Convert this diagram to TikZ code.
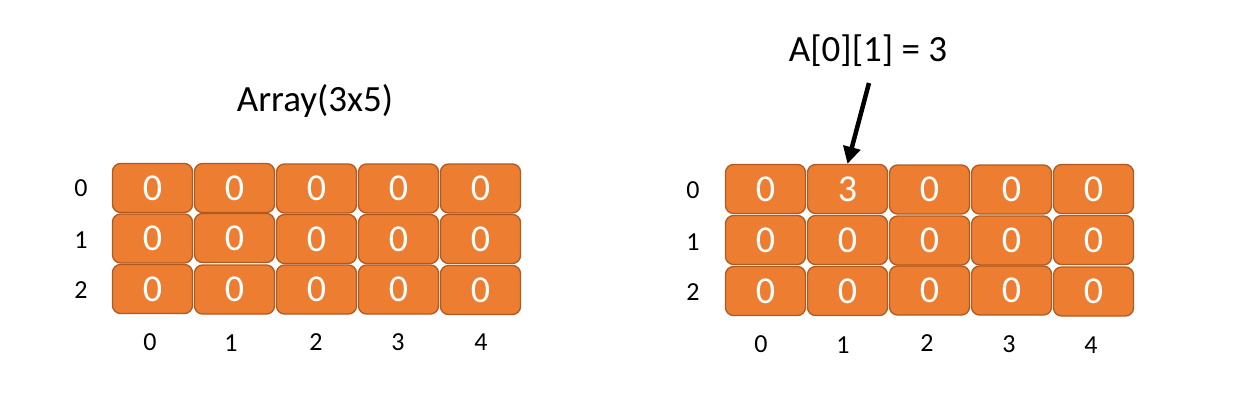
\documentclass[tikz,border=0pt]{standalone}
\usepackage{fontspec}
\setmainfont{Carlito}
\usetikzlibrary{arrows.meta}
\definecolor{cellfill}{HTML}{ED7D31}
\definecolor{celledge}{HTML}{AE5A21}
\begin{document}
\begin{tikzpicture}[x=1pt,y=-1pt]
\tikzstyle{cell} = [draw=celledge,fill=cellfill,line width=1.3pt,rounded corners=8pt,minimum width=80pt,minimum height=49pt,inner sep=0pt,text=white,font=\fontsize{38}{44}\selectfont];
\tikzstyle{idx} = [inner sep=0pt,font=\fontsize{26}{30}\selectfont];
\tikzstyle{caption} = [inner sep=0pt,anchor=base,font=\fontsize{37}{44}\selectfont];
\tikzstyle{pointer} = [-{Triangle[width=17pt,length=17pt]},line width=4.5pt];
\useasboundingbox (0,0) rectangle (1235,416);

% left array
\node [caption] (t1) at (315,111.5) {Array(3x5)};
\node [cell] (a00) at (152.5,188) {0};
\node [cell] (a01) at (234.5,188) {0};
\node [cell] (a02) at (316.5,188.5) {0};
\node [cell] (a03) at (398.5,188.5) {0};
\node [cell] (a04) at (480.5,188.5) {0};
\node [cell] (a10) at (152.5,238.5) {0};
\node [cell] (a11) at (234.5,238) {0};
\node [cell] (a12) at (316.5,239) {0};
\node [cell] (a13) at (398.5,239) {0};
\node [cell] (a14) at (480.5,239) {0};
\node [cell] (a20) at (152.5,289) {0};
\node [cell] (a21) at (234.5,289.5) {0};
\node [cell] (a22) at (316.5,289.5) {0};
\node [cell] (a23) at (398.5,289.5) {0};
\node [cell] (a24) at (480.5,290) {0};
\node [idx] (r0) at (81,188) {0};
\node [idx] (r1) at (81,240) {1};
\node [idx] (r2) at (81,290) {2};
\node [idx] (c0) at (150,342) {0};
\node [idx] (c1) at (231,343) {1};
\node [idx] (c2) at (316,342) {2};
\node [idx] (c3) at (398,342) {3};
\node [idx] (c4) at (481,342) {4};

% right array
\node [caption] (t2) at (868,61.5) {A[0][1] = 3};
\node [cell] (b00) at (765.5,189) {0};
\node [cell] (b01) at (847.5,189) {3};
\node [cell] (b02) at (929.5,189.5) {0};
\node [cell] (b03) at (1011.5,189.5) {0};
\node [cell] (b04) at (1093.5,189) {0};
\node [cell] (b10) at (765.5,240) {0};
\node [cell] (b11) at (847.5,240) {0};
\node [cell] (b12) at (929.5,240.5) {0};
\node [cell] (b13) at (1011.5,240.5) {0};
\node [cell] (b14) at (1093.5,240) {0};
\node [cell] (b20) at (765.5,291) {0};
\node [cell] (b21) at (847.5,291) {0};
\node [cell] (b22) at (929.5,290.5) {0};
\node [cell] (b23) at (1011.5,290.5) {0};
\node [cell] (b24) at (1093.5,291.5) {0};
\node [idx] (rr0) at (693,190) {0};
\node [idx] (rr1) at (693,242) {1};
\node [idx] (rr2) at (693,292) {2};
\node [idx] (cc0) at (761,344) {0};
\node [idx] (cc1) at (843,345) {1};
\node [idx] (cc2) at (927,343) {2};
\node [idx] (cc3) at (1009,344) {3};
\node [idx] (cc4) at (1091,345) {4};

\coordinate (tail) at (869,83);
\draw [pointer] (tail) -- (b01.north);
\end{tikzpicture}
\end{document}
